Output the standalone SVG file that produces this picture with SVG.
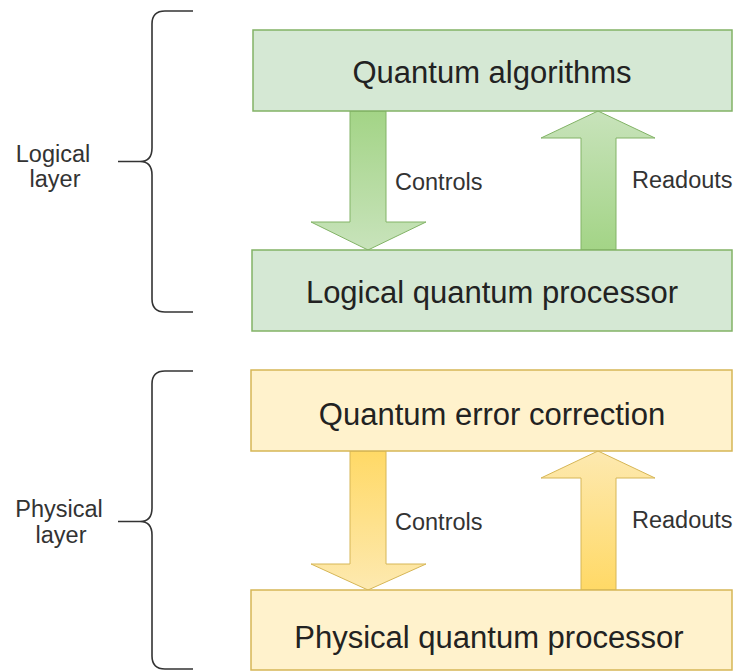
<svg xmlns="http://www.w3.org/2000/svg" width="735" height="671" viewBox="0 0 735 671">
<style>
  text { font-family: "Liberation Sans", Arial, Helvetica, sans-serif; }
  .box-g { fill: #d5e8d4; stroke: #82b366; stroke-width: 1.5; }
  .box-o { fill: #fff2cc; stroke: #d6b656; stroke-width: 1.5; }
  .down-g { fill: url(#gg-down); stroke: #82b366; stroke-width: 1; }
  .up-g { fill: url(#gg-up); stroke: #82b366; stroke-width: 1; }
  .down-o { fill: url(#go-down); stroke: #d6b656; stroke-width: 1; }
  .up-o { fill: url(#go-up); stroke: #d6b656; stroke-width: 1; }
  .big { font-size: 31px; fill: #222; text-anchor: middle; }
  .lbl { font-size: 23.5px; fill: #333; }
  .side { font-size: 23.5px; fill: #333; text-anchor: middle; }
  .brace { fill: none; stroke: #333; stroke-width: 1.6; }
</style>
<defs>
  <linearGradient id="gg-down" x1="0" y1="0" x2="0" y2="1">
    <stop offset="0" stop-color="#a3d486"/>
    <stop offset="1" stop-color="#c8e3bb"/>
  </linearGradient>
  <linearGradient id="gg-up" x1="0" y1="1" x2="0" y2="0">
    <stop offset="0" stop-color="#a3d486"/>
    <stop offset="1" stop-color="#c8e3bb"/>
  </linearGradient>
  <linearGradient id="go-down" x1="0" y1="0" x2="0" y2="1">
    <stop offset="0" stop-color="#ffd966"/>
    <stop offset="1" stop-color="#fde9b0"/>
  </linearGradient>
  <linearGradient id="go-up" x1="0" y1="1" x2="0" y2="0">
    <stop offset="0" stop-color="#ffd966"/>
    <stop offset="1" stop-color="#fde9b0"/>
  </linearGradient>
</defs>

<g id="braces">
  <path class="brace" d="M193 11 H165 Q152 11 152 24 V148 Q152 161.5 140 161.5 Q152 161.5 152 175 V299 Q152 312 165 312 H193 M118 161.5 H140"/>
  <path class="brace" d="M193 371 H165 Q152 371 152 384 V508 Q152 521.5 140 521.5 Q152 521.5 152 535 V656 Q152 669 165 669 H193 M118 521.5 H140"/>
</g>

<g id="label-logical">
  <text class="side" x="53" y="162">Logical</text>
  <text class="side" x="55" y="187">layer</text>
</g>
<g id="label-physical">
  <text class="side" x="59" y="517">Physical</text>
  <text class="side" x="61" y="543">layer</text>
</g>

<g id="connectors">
  <polygon class="down-g" points="350,111 386,111 386,222 426,222 368,250 311,222 350,222"/>
  <polygon class="up-g" points="598,111 655,138 616,138 616,250 581,250 581,138 541,138"/>
  <polygon class="down-o" points="350,451 386,451 386,564 426,564 368,590 311,564 350,564"/>
  <polygon class="up-o" points="598,451 655,478 616,478 616,590 581,590 581,478 541,478"/>
  <text class="lbl" x="395" y="190">Controls</text>
  <text class="lbl" x="632" y="188">Readouts</text>
  <text class="lbl" x="395" y="530">Controls</text>
  <text class="lbl" x="632" y="528">Readouts</text>
</g>

<g id="quantum-algorithms">
  <rect class="box-g" x="253" y="30" width="479" height="81"/>
  <text class="big" x="492" y="83">Quantum algorithms</text>
</g>
<g id="logical-processor">
  <rect class="box-g" x="252" y="250" width="480" height="81"/>
  <text class="big" x="492" y="303">Logical quantum processor</text>
</g>
<g id="error-correction">
  <rect class="box-o" x="251" y="370" width="481" height="81"/>
  <text class="big" x="492" y="425">Quantum error correction</text>
</g>
<g id="physical-processor">
  <rect class="box-o" x="251" y="590" width="481" height="80"/>
  <text class="big" x="489" y="648">Physical quantum processor</text>
</g>
</svg>
